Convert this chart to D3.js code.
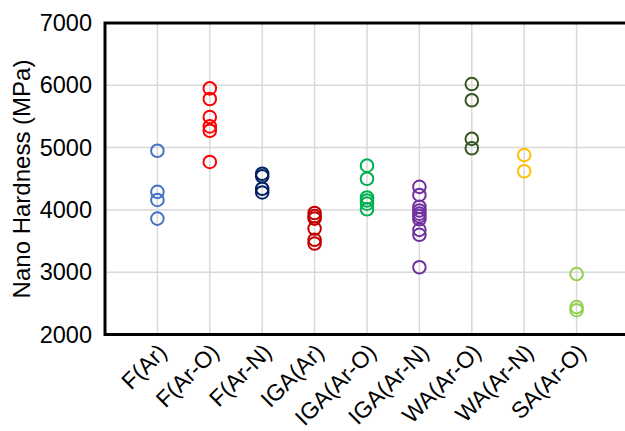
<!DOCTYPE html>
<html>
<head>
  <script src="https://d3js.org/d3.v7.min.js"></script>
  <style>
    body { margin: 0; background: #fff; }
    svg text { font-family: Arial, "Liberation Sans", sans-serif; fill: #000; }
  </style>
</head>
<body>
<script>
  var categories = ["F(Ar)", "F(Ar-O)", "F(Ar-N)", "IGA(Ar)", "IGA(Ar-O)", "IGA(Ar-N)", "WA(Ar-O)", "WA(Ar-N)", "SA(Ar-O)"];
  var colors = ["#4472C4", "#FF0000", "#002060", "#C00000", "#00B050", "#7030A0", "#375623", "#FFC000", "#92D050"];

  var fAr = [4950, 4290, 4160, 3860];
  var fArO = [5950, 5780, 5490, 5340, 5270, 4770];
  var fArN = [4580, 4540, 4340, 4280];
  var igaAr = [3950, 3900, 3860, 3700, 3520, 3460];
  var igaArO = [4710, 4500, 4200, 4150, 4100, 4010];
  var igaArN = [4370, 4240, 4050, 3990, 3940, 3900, 3850, 3680, 3600, 3080];
  var waArO = [6020, 5760, 5140, 4990];
  var waArN = [4880, 4620];
  var saArO = [2970, 2440, 2390];
  var series = [fAr, fArO, fArN, igaAr, igaArO, igaArN, waArO, waArN, saArO];

  var yTicks = [2000, 3000, 4000, 5000, 6000, 7000];

  var width = 625, height = 431;
  var svg = d3.select("body").append("svg")
    .attr("width", width)
    .attr("height", height);

  var x = d3.scaleLinear().domain([0, 10]).range([105, 629]);
  var y = d3.scaleLinear().domain([2000, 7000]).range([334.5, 23]);

  // grid
  svg.append("g").selectAll("line.h")
    .data(yTicks)
    .enter().append("line")
    .attr("x1", x(0)).attr("x2", x(10))
    .attr("y1", function(d) { return y(d); })
    .attr("y2", function(d) { return y(d); })
    .attr("stroke", "#d9d9d9")
    .attr("stroke-width", 1.5);

  svg.append("g").selectAll("line.v")
    .data(categories)
    .enter().append("line")
    .attr("x1", function(d, i) { return x(i + 1); })
    .attr("x2", function(d, i) { return x(i + 1); })
    .attr("y1", y(7000)).attr("y2", y(2000))
    .attr("stroke", "#d9d9d9")
    .attr("stroke-width", 1.5);

  // frame
  svg.append("rect")
    .attr("x", x(0)).attr("y", y(7000))
    .attr("width", x(10) - x(0))
    .attr("height", y(2000) - y(7000))
    .attr("fill", "none")
    .attr("stroke", "#000")
    .attr("stroke-width", 3);

  // y axis labels
  var yAxis = d3.axisLeft(y).tickValues(yTicks).tickSize(0).tickPadding(13)
    .tickFormat(d3.format("d"));
  var gy = svg.append("g").attr("transform", "translate(" + x(0) + ",0)").call(yAxis);
  gy.select(".domain").remove();
  gy.selectAll("text")
    .style("font-size", "23.5px")
    .style("font-family", "Arial, 'Liberation Sans', sans-serif");

  // x labels
  svg.append("g").selectAll("text")
    .data(categories)
    .enter().append("text")
    .attr("transform", function(d, i) {
      return "translate(" + (x(i + 1) + 5) + ",348) rotate(-45)";
    })
    .attr("text-anchor", "end")
    .attr("dy", "0.35em")
    .style("font-size", "23px")
    .text(function(d) { return d; });

  // y title
  svg.append("text")
    .attr("transform", "translate(30,179) rotate(-90)")
    .attr("text-anchor", "middle")
    .style("font-size", "24px")
    .text("Nano Hardness (MPa)");

  // points
  series.forEach(function(vals, i) {
    svg.append("g").selectAll("circle")
      .data(vals)
      .enter().append("circle")
      .attr("cx", x(i + 1))
      .attr("cy", function(d) { return y(d); })
      .attr("r", 6.3)
      .attr("fill", "none")
      .attr("stroke", colors[i])
      .attr("stroke-width", 2);
  });
</script>
</body>
</html>
